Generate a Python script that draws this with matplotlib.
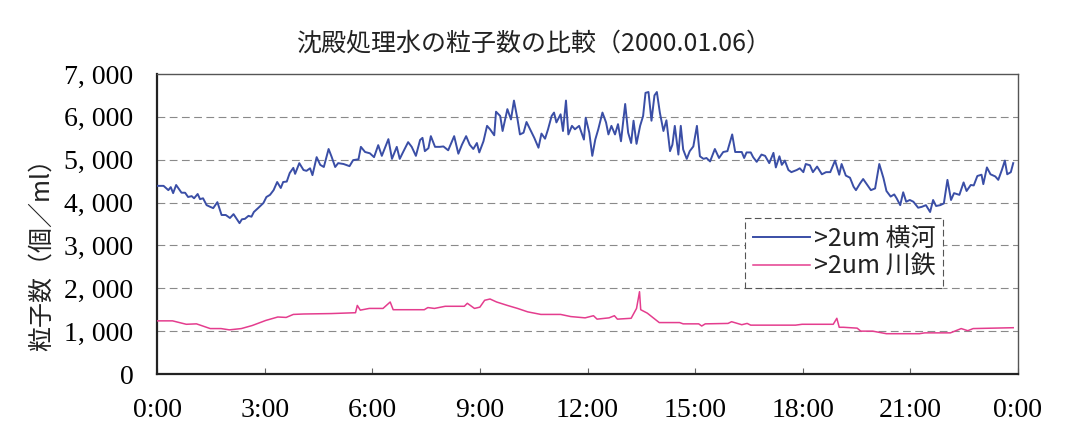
import matplotlib
matplotlib.use("Agg")
import matplotlib.pyplot as plt
import numpy as np

# ---------------- data (minutes after 0:00, particle count / ml) ----------------
title_text = "沈殿処理水の粒子数の比較（2000.01.06）"
ylabel_text = "粒子数（個／ml）"
series_names = [">2um 横河", ">2um 川鉄"]

yokogawa_min = [0, 11, 19, 23, 27, 32, 41, 47, 52, 58, 62, 68, 72, 77, 83, 89, 94, 101, 108, 115,
                122, 128, 138, 142, 147, 153, 158, 162, 169, 178, 183, 189, 195, 201, 207, 211, 217,
                222, 228, 231, 238, 245, 250, 256, 260, 267, 273, 279, 287, 292, 298, 303, 312, 322,
                328, 337, 341, 348, 356, 363, 370, 376, 387, 393, 401, 406, 412, 420, 426, 433, 440,
                444, 448, 454, 458, 465, 473, 479, 487, 497, 504, 510, 517, 523, 529, 535, 539, 546,
                552, 557, 564, 567, 574, 578, 586, 592, 597, 603, 607, 613, 618, 624, 631, 638, 643,
                649, 654, 660, 664, 668, 675, 679, 684, 688, 694, 699, 706, 714, 717, 723, 728, 733,
                738, 745, 751, 755, 760, 766, 771, 776, 783, 788, 793, 797, 802, 808, 813, 817, 822,
                827, 832, 836, 841, 847, 852, 858, 862, 866, 872, 876, 880, 886, 891, 897, 903, 908,
                914, 919, 925, 933, 940, 947, 954, 962, 967, 978, 982, 986, 993, 997, 1003, 1011,
                1017, 1024, 1031, 1035, 1041, 1045, 1050, 1056, 1061, 1070, 1075, 1081, 1085, 1092,
                1097, 1104, 1112, 1119, 1126, 1134, 1141, 1145, 1152, 1159, 1165, 1169, 1176, 1181,
                1187, 1194, 1201, 1208, 1215, 1220, 1227, 1233, 1237, 1243, 1248, 1253, 1259, 1265,
                1273, 1279, 1286, 1293, 1298, 1303, 1310, 1316, 1322, 1328, 1333, 1342, 1349, 1354,
                1361, 1366, 1372, 1379, 1382, 1388, 1394, 1402, 1407, 1413, 1418, 1422, 1428, 1432]
yokogawa_count = [4390, 4390, 4290, 4360, 4220, 4410, 4230, 4230, 4130, 4150, 4100, 4200, 4080, 4100,
                  3940, 3900, 3870, 4010, 3710, 3710, 3640, 3730, 3520, 3610, 3620, 3690, 3670, 3780,
                  3870, 3990, 4130, 4180, 4290, 4480, 4340, 4480, 4490, 4690, 4810, 4670, 4920, 4760,
                  4740, 4800, 4640, 5060, 4880, 4830, 5250, 5070, 4830, 4920, 4900, 4850, 4990, 5010,
                  5300, 5180, 5150, 5060, 5340, 5090, 5480, 5020, 5300, 5020, 5190, 5410, 5300, 5090,
                  5460, 5510, 5200, 5270, 5550, 5300, 5300, 5310, 5220, 5550, 5140, 5350, 5550, 5350,
                  5250, 5390, 5170, 5430, 5790, 5710, 5570, 6120, 6020, 5670, 6180, 5940, 6380, 5940,
                  5590, 5630, 5880, 5710, 5510, 5280, 5610, 5490, 5710, 6020, 6100, 5870, 6060, 5670,
                  6380, 5590, 5790, 5710, 5790, 5470, 5980, 5630, 5090, 5470, 5710, 6100, 5870, 5590,
                  5790, 5590, 5830, 5430, 6300, 5630, 5390, 5910, 5370, 5790, 6020, 6560, 6580, 5910,
                  6500, 6580, 6100, 5670, 5920, 5200, 5350, 5790, 5120, 5790, 5240, 5020, 5200, 5310,
                  5790, 5080, 5020, 5040, 4960, 5250, 5040, 5180, 5200, 5590, 5180, 5180, 5040, 5170,
                  5170, 5060, 4950, 5120, 5090, 4920, 5160, 4820, 5080, 4880, 4980, 4760, 4710, 4760,
                  4800, 4710, 4900, 4870, 4710, 4840, 4660, 4710, 4710, 4980, 4650, 4900, 4630, 4580,
                  4370, 4290, 4450, 4550, 4430, 4290, 4330, 4900, 4570, 4270, 4140, 4190, 4100, 3940,
                  4240, 4020, 4060, 4020, 3880, 3900, 3940, 3780, 4060, 3920, 3940, 3980, 4530, 4060,
                  4220, 4180, 4470, 4270, 4410, 4400, 4620, 4650, 4430, 4820, 4660, 4610, 4530, 4760,
                  4980, 4660, 4710, 4920]

kawatetsu_min = [0, 26, 49, 66, 89, 107, 121, 141, 159, 182, 202, 216, 228, 245, 291, 332, 335, 340,
                 355, 378, 390, 395, 447, 453, 464, 482, 514, 519, 531, 540, 548, 557, 568, 586, 603,
                 620, 642, 675, 692, 716, 730, 736, 756, 765, 770, 793, 802, 807, 809, 820, 840, 874,
                 880, 906, 911, 917, 955, 961, 978, 987, 993, 1068, 1079, 1102, 1131, 1137, 1141, 1148,
                 1171, 1177, 1197, 1220, 1275, 1284, 1327, 1345, 1356, 1365, 1432]
kawatetsu_count = [1240, 1240, 1160, 1170, 1060, 1060, 1030, 1060, 1130, 1250, 1330, 1320, 1390, 1400,
                   1410, 1430, 1600, 1490, 1530, 1530, 1680, 1500, 1500, 1550, 1530, 1580, 1580, 1650,
                   1530, 1560, 1720, 1750, 1680, 1600, 1530, 1450, 1390, 1390, 1340, 1310, 1360, 1280,
                   1310, 1360, 1280, 1300, 1530, 1920, 1500, 1420, 1200, 1200, 1170, 1170, 1120, 1170,
                   1180, 1220, 1150, 1180, 1140, 1140, 1160, 1160, 1160, 1300, 1090, 1090, 1070, 1000,
                   1000, 940, 940, 960, 960, 1060, 1010, 1060, 1080]

x_tick_minutes = [0, 180, 360, 540, 720, 900, 1080, 1260, 1440]
x_tick_labels = ["0:00", "3:00", "6:00", "9:00", "12:00", "15:00", "18:00", "21:00", "0:00"]
y_ticks = [0, 1000, 2000, 3000, 4000, 5000, 6000, 7000]
y_tick_labels = ["0", "1, 000", "2, 000", "3, 000", "4, 000", "5, 000", "6, 000", "7, 000"]

# ---------------- styling ----------------
CJK = ["Noto Sans CJK JP", "DejaVu Sans"]
SERIF = ["Liberation Serif", "DejaVu Serif"]
blue = "#3a4ea6"
pink = "#e43d8e"

fig = plt.figure(figsize=(10.78, 4.28), dpi=100)
ax = fig.add_axes([157 / 1078, 1 - 374 / 428, 861 / 1078, 300 / 428])

ax.plot(yokogawa_min, yokogawa_count, color=blue, lw=1.4, label=series_names[0], zorder=3)
ax.plot(kawatetsu_min, kawatetsu_count, color=pink, lw=1.1, label=series_names[1], zorder=3)

ax.set_xlim(0, 1440)
ax.set_ylim(0, 7000)
ax.set_xticks(x_tick_minutes)
ax.set_xticklabels(x_tick_labels, family=SERIF, fontsize=20)
ax.set_yticks(y_ticks)
ax.set_yticklabels(y_tick_labels, family=SERIF, fontsize=20)
ax.tick_params(axis="x", direction="in", length=4, width=0.8, color="#666", pad=17)
ax.tick_params(axis="y", length=0, pad=17)

for v in y_ticks[1:-1]:
    ax.axhline(v, color="#8a8a8a", lw=0.8, dashes=(7, 4), zorder=1)

for side in ["left", "bottom"]:
    ax.spines[side].set_linewidth(1.6)
    ax.spines[side].set_color("#222")
for side in ["top", "right"]:
    ax.spines[side].set_linewidth(1.0)
    ax.spines[side].set_color("#555")

fig.text(0.496, 0.898, title_text, ha="center", va="center", fontsize=18, family=CJK, color="#222")
fig.text(0.039, 0.42, ylabel_text, ha="center", va="center", rotation=90, fontsize=18,
         family=CJK, color="#222")

leg = ax.legend(loc="upper left", bbox_to_anchor=((745 - 157) / 861, (374 - 218) / 300),
                borderaxespad=0, prop={"family": CJK, "size": 18}, handlelength=2.3,
                handletextpad=0.15, labelspacing=0.1, borderpad=0.3, fancybox=False,
                framealpha=1, edgecolor="#555")
leg.get_frame().set_linewidth(0.8)
leg.get_frame().set_linestyle((0, (6, 3)))
for t in leg.get_texts():
    t.set_color("#222")

fig.savefig("out.png", dpi=100)
